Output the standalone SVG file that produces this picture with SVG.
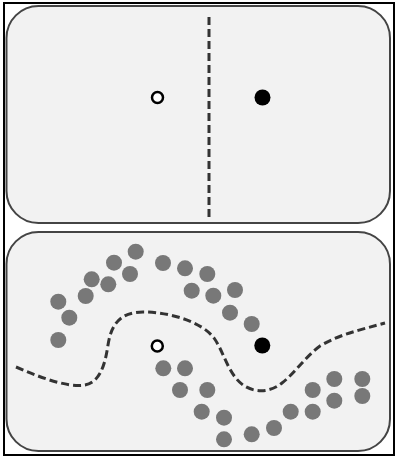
<svg xmlns="http://www.w3.org/2000/svg" width="397" height="457" viewBox="0 0 397 457">
  <style>
    .panel { fill: #f2f2f2; stroke: #444; stroke-width: 2; }
    .dash { fill: none; stroke: #333; stroke-width: 3; stroke-dasharray: 8 4; }
    .dot { fill: #787878; }
    .hollow { fill: #fff; stroke: #000; stroke-width: 2.5; }
    .solid { fill: #000; }
  </style>
  <rect x="0" y="0" width="397" height="457" fill="#fff"/>
  <rect x="4" y="3" width="390" height="452" fill="none" stroke="#000" stroke-width="2"/>
  <g id="top-panel">
    <rect class="panel" x="6.5" y="6" width="383.5" height="217" rx="32" ry="32"/>
    <line class="dash" x1="209" y1="17" x2="209" y2="221"/>
    <circle class="hollow" cx="157.5" cy="97.5" r="5.5"/>
    <circle class="solid" cx="262.5" cy="97.5" r="8"/>
  </g>
  <g id="bottom-panel">
    <rect class="panel" x="6.5" y="232" width="383.5" height="219" rx="32" ry="32"/>
    <path class="dash" d="M16,367 C35,375 65,388 85,385 C100,382 105,365 108,345 C111,325 120,312 143,312 C170,312 202,322 214,338 C224,352 228,374 243,385 C253,392 268,394 282,383 C296,372 305,357 320,346 C340,334 360,330 385,323"/>
    <g id="dots">
      <circle class="dot" cx="135.7" cy="251.7" r="8"/>
      <circle class="dot" cx="114" cy="262.7" r="8"/>
      <circle class="dot" cx="163" cy="263" r="8"/>
      <circle class="dot" cx="130" cy="274" r="8"/>
      <circle class="dot" cx="91.7" cy="279.3" r="8"/>
      <circle class="dot" cx="108.3" cy="284.3" r="8"/>
      <circle class="dot" cx="85.7" cy="296" r="8"/>
      <circle class="dot" cx="58.3" cy="301.7" r="8"/>
      <circle class="dot" cx="69.3" cy="317.7" r="8"/>
      <circle class="dot" cx="58.3" cy="340" r="8"/>
      <circle class="dot" cx="185" cy="268.3" r="8"/>
      <circle class="dot" cx="207.3" cy="274" r="8"/>
      <circle class="dot" cx="191.7" cy="290.7" r="8"/>
      <circle class="dot" cx="213.3" cy="295.7" r="8"/>
      <circle class="dot" cx="235" cy="290" r="8"/>
      <circle class="dot" cx="230" cy="312.7" r="8"/>
      <circle class="dot" cx="251.7" cy="324" r="8"/>
      <circle class="dot" cx="163.3" cy="368.3" r="8"/>
      <circle class="dot" cx="185" cy="368.3" r="8"/>
      <circle class="dot" cx="180" cy="390" r="8"/>
      <circle class="dot" cx="207.3" cy="390" r="8"/>
      <circle class="dot" cx="201.7" cy="411.7" r="8"/>
      <circle class="dot" cx="224" cy="417.7" r="8"/>
      <circle class="dot" cx="224" cy="439.3" r="8"/>
      <circle class="dot" cx="251.7" cy="434.3" r="8"/>
      <circle class="dot" cx="274" cy="428" r="8"/>
      <circle class="dot" cx="290.7" cy="411.7" r="8"/>
      <circle class="dot" cx="312.7" cy="411.7" r="8"/>
      <circle class="dot" cx="312.7" cy="390" r="8"/>
      <circle class="dot" cx="334.3" cy="379" r="8"/>
      <circle class="dot" cx="334.3" cy="400.7" r="8"/>
      <circle class="dot" cx="362.3" cy="379" r="8"/>
      <circle class="dot" cx="362.3" cy="396" r="8"/>
    </g>
    <circle class="hollow" cx="157.3" cy="346" r="5.5"/>
    <circle class="solid" cx="262.3" cy="345.5" r="8"/>
  </g>
</svg>
